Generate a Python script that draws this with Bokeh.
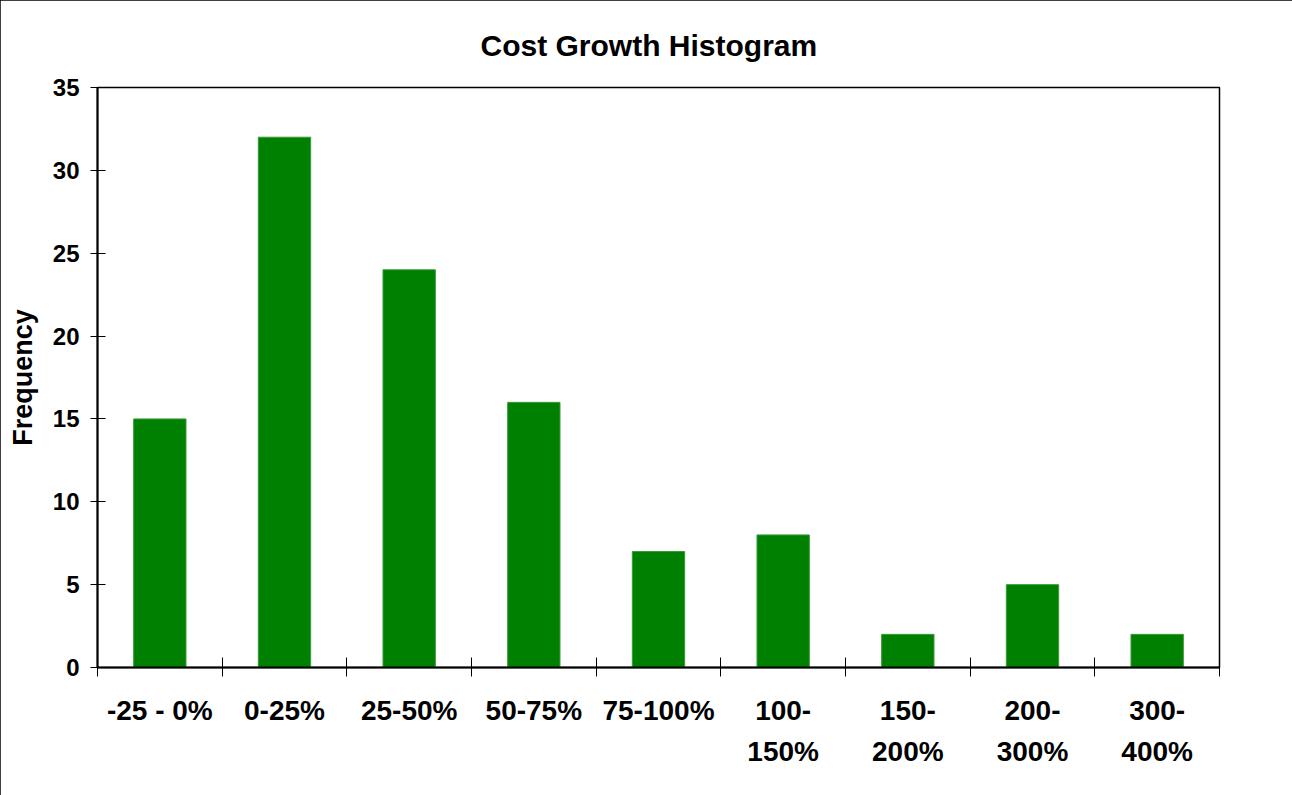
from bokeh.plotting import figure
from bokeh.models import FixedTicker, Range1d, ColumnDataSource
from bokeh.embed import file_html
from bokeh.resources import INLINE

categories = ["-25 - 0%", "0-25%", "25-50%", "50-75%", "75-100%",
              "100-\n150%", "150-\n200%", "200-\n300%", "300-\n400%"]
frequency = [15, 32, 24, 16, 7, 8, 2, 5, 2]
y_ticks = [0, 5, 10, 15, 20, 25, 30, 35]

n = len(categories)
centers = [i + 0.5 for i in range(n)]
boundaries = list(range(n + 1))

FONT = "Liberation Sans"

p = figure(width=1292, height=795, output_backend="svg", toolbar_location=None,
           x_range=Range1d(0, n), y_range=Range1d(0, 35),
           min_border_left=97, min_border_top=87, min_border_right=73, min_border_bottom=128,
           frame_width=1122, frame_height=580,
           title="Cost Growth Histogram")

src = ColumnDataSource(dict(x=centers, top=frequency))
p.vbar(x="x", top="top", bottom=0, width=0.42, source=src,
       fill_color="#008000", line_color="#3a9a3a", line_width=1)

p.title.align = "left"
p.title.offset = 383
p.title.text_font = FONT
p.title.text_font_size = "30px"
p.title.text_font_style = "bold"
p.title.text_color = "black"
p.title.standoff = 52

p.xgrid.visible = False
p.ygrid.visible = False
p.outline_line_color = "black"
p.outline_line_width = 1.5
p.background_fill_color = "white"
p.border_fill_color = "white"

xa = p.xaxis[0]
xa.ticker = FixedTicker(ticks=centers, minor_ticks=boundaries)
xa.major_label_overrides = {c: lab for c, lab in zip(centers, categories)}
xa.major_tick_line_color = None
xa.major_tick_in = 0
xa.major_tick_out = 0
xa.minor_tick_in = 10
xa.minor_tick_out = 9
xa.minor_tick_line_color = "black"
xa.minor_tick_line_width = 1
xa.axis_line_color = "black"
xa.axis_line_width = 2
xa.major_label_text_font = FONT
xa.major_label_text_font_size = "28px"
xa.major_label_text_font_style = "bold"
xa.major_label_text_color = "black"
xa.major_label_text_line_height = 1.35
xa.major_label_standoff = 18
xa.major_label_orientation = "horizontal"

ya = p.yaxis[0]
ya.ticker = FixedTicker(ticks=y_ticks, minor_ticks=[])
ya.major_tick_in = 8
ya.major_tick_out = 7
ya.major_tick_line_color = "black"
ya.minor_tick_line_color = None
ya.axis_line_color = "black"
ya.axis_line_width = 2
ya.major_label_text_font = FONT
ya.major_label_text_font_size = "24px"
ya.major_label_text_font_style = "bold"
ya.major_label_text_color = "black"
ya.major_label_standoff = 11
ya.axis_label = "Frequency"
ya.axis_label_text_font = FONT
ya.axis_label_text_font_size = "27px"
ya.axis_label_text_font_style = "bold"
ya.axis_label_text_color = "black"
ya.axis_label_standoff = 12

p.styles = {"outline": "2px solid black", "outline-offset": "-2px"}

open("out.html", "w").write(file_html(p, INLINE))
